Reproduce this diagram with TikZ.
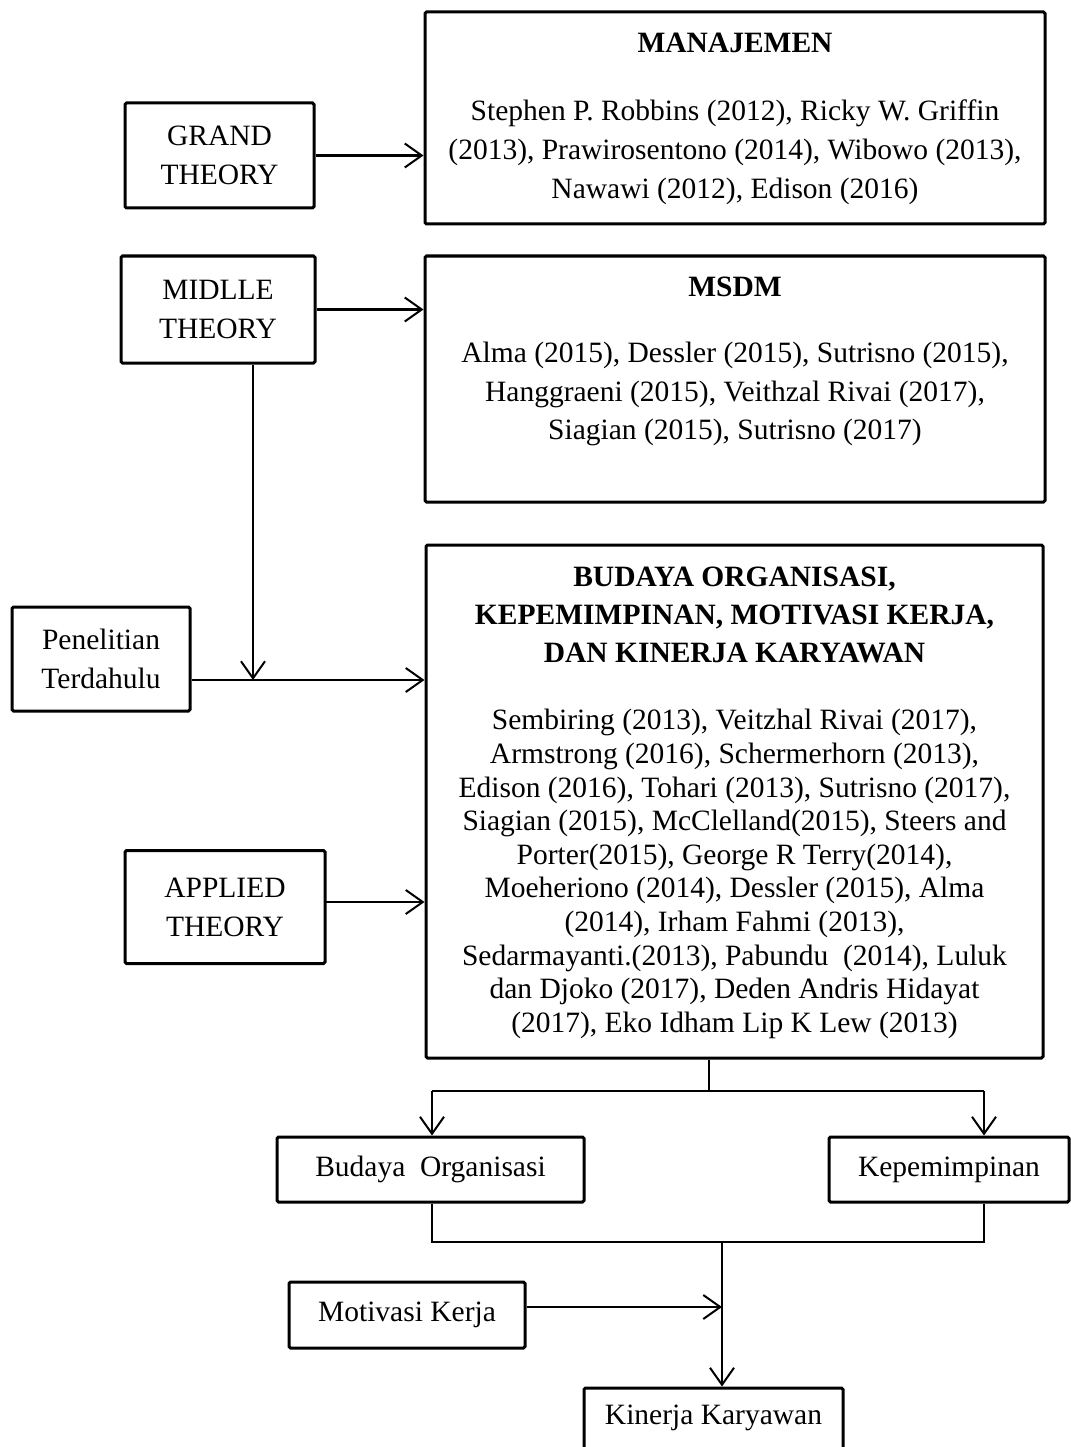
\documentclass[tikz,border=0pt]{standalone}
\usepackage{fontspec}
\setmainfont{Liberation Serif}
\usetikzlibrary{arrows.meta,calc}
\begin{document}
\begin{tikzpicture}[x=1pt,y=-1pt,
  box/.style={draw,line width=3pt,rounded corners=1.5pt,inner sep=0pt,align=center,font=\fontsize{29.5}{39}\selectfont},
  arr/.style={line width=2.2pt,-{Straight Barb[length=17pt,width=24pt,line width=2pt]}},
  thin/.style={line width=1.6pt}]
\useasboundingbox (0,0) rectangle (1070,1447);
\fill[white] (0,0) rectangle (1070,1447);
% nodes
\node[box,minimum width=620pt,minimum height=212pt] (man) at (735,118) {};
\node[font=\fontsize{29.5}{39}\selectfont\bfseries] (manT) at (735,43) {MANAJEMEN};
\node[align=center,font=\fontsize{29.5}{39}\selectfont] (manB) at (735,152) {Stephen P. Robbins (2012), Ricky W. Griffin\\(2013), Prawirosentono (2014), Wibowo (2013),\\Nawawi (2012), Edison (2016)};
\node[box,minimum width=189pt,minimum height=105pt] (grand) at (219.5,155.5) {GRAND\\THEORY};

\node[box,minimum width=620pt,minimum height=246pt] (msdm) at (735,379) {};
\node[font=\fontsize{29.5}{39}\selectfont\bfseries] (msdmT) at (735,287) {MSDM};
\node[align=center,font=\fontsize{29.5}{38.5}\selectfont] (msdmB) at (735,394) {Alma (2015), Dessler (2015), Sutrisno (2015),\\Hanggraeni (2015), Veithzal Rivai (2017),\\Siagian (2015), Sutrisno (2017)};
\node[box,minimum width=194pt,minimum height=107pt] (midlle) at (218,309.5) {MIDLLE\\THEORY};

\node[box,minimum width=617pt,minimum height=513pt] (bud) at (734.5,801.5) {};
\node[align=center,font=\fontsize{29.5}{38}\selectfont\bfseries] (budT) at (734.5,615) {BUDAYA ORGANISASI,\\KEPEMIMPINAN, MOTIVASI KERJA,\\DAN KINERJA KARYAWAN};
\node[align=center,font=\fontsize{29.5}{33.6}\selectfont] (budB) at (734.5,874) {Sembiring (2013), Veitzhal Rivai (2017),\\Armstrong (2016), Schermerhorn (2013),\\Edison (2016), Tohari (2013), Sutrisno (2017),\\Siagian (2015), McClelland(2015), Steers and\\Porter(2015), George R Terry(2014),\\Moeheriono (2014), Dessler (2015), Alma\\(2014), Irham Fahmi (2013),\\Sedarmayanti.(2013), Pabundu~~(2014), Luluk\\dan Djoko (2017), Deden Andris Hidayat\\(2017), Eko Idham Lip K Lew (2013)};
\node[box,minimum width=178pt,minimum height=104pt] (pen) at (101,659) {Penelitian\\Terdahulu};
\node[box,minimum width=200pt,minimum height=113pt] (app) at (225,907) {APPLIED\\THEORY};

\node[box,minimum width=307pt,minimum height=65pt] (org) at (430.5,1169.5) {Budaya~~Organisasi};
\node[box,minimum width=240pt,minimum height=65pt] (kep) at (949,1169.5) {Kepemimpinan};
\node[box,minimum width=236pt,minimum height=66pt] (mot) at (407,1315) {Motivasi Kerja};
\node[box,minimum width=259pt,minimum height=70pt,text depth=0pt] (kin) at (713.5,1423) {};
\node[font=\fontsize{29.5}{39}\selectfont] (kinT) at (713.5,1418) {Kinerja Karyawan};

% coordinates
\coordinate (jm) at (253,680);
\coordinate (ja) at (325,902);
\coordinate (b1) at (709,1091);
\coordinate (bl) at (432,1091);
\coordinate (br) at (984,1091);
\coordinate (ml) at (432,1242);
\coordinate (mr) at (984,1242);
\coordinate (mc) at (722,1242);
\coordinate (mm) at (722,1307);

% connectors
\draw[arr] (grand.east) -- (grand.east -| man.west);
\draw[arr] (midlle.east) -- (midlle.east -| msdm.west);
\draw[arr] (midlle.south -| jm) -- (jm);
\draw[arr] (pen.east |- jm) -- (jm -| bud.west);
\draw[arr] (ja) -- (ja -| bud.west);
\draw[thin] (bud.south -| b1) -- (b1);
\draw[line width=2pt] (bl) -- (br);
\draw[arr] (bl) -- (bl |- org.north);
\draw[arr] (br) -- (br |- kep.north);
\draw[thin] (org.south -| ml) -- (ml) -- (mr) -- (kep.south -| mr);
\draw[arr] (mc) -- (mc |- kin.north);
\draw[arr] (mot.east |- mm) -- (mm);
\end{tikzpicture}
\end{document}
